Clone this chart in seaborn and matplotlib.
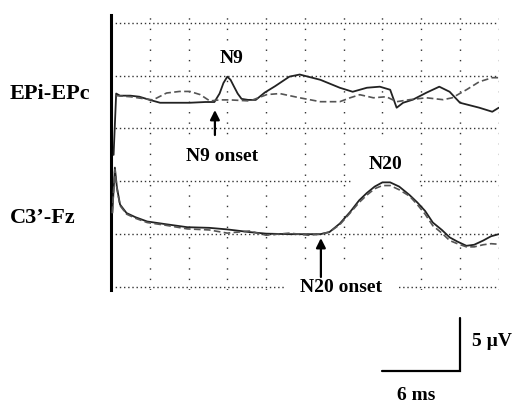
import numpy as np
import pandas as pd
import seaborn as sns
import matplotlib
matplotlib.use("Agg")
import matplotlib.pyplot as plt

# ---------------- data (ms, µV relative to each channel baseline) ----------------
EPI_OFFSET = 18.0
C3_OFFSET = 5.0

epi_a_t = [0.2, 0.4, 0.7, 1.5, 2.2, 3.0, 3.8, 5.0, 6.1, 7.3, 8.0, 8.4, 8.7, 9.0, 9.25,
           9.5, 9.8, 10.1, 10.6, 11.2, 11.9, 12.7, 13.8, 14.6, 16.2, 17.7, 18.7, 19.8,
           20.8, 21.6, 22.1, 22.6, 23.35, 24.4, 25.4, 26.2, 27.0, 28.5, 29.5, 30.0]
epi_a_v = [-5.5, 0.3, 0.1, 0.1, 0.0, -0.3, -0.57, -0.57, -0.57, -0.5, -0.5, 0.3, 1.3, 1.9, 1.6,
           1.0, 0.3, -0.2, -0.3, -0.3, 0.4, 1.0, 1.9, 2.1, 1.6, 0.85, 0.47, 0.85,
           0.95, 0.66, -1.04, -0.57, -0.28, 0.38, 0.95, 0.47, -0.57, -1.04, -1.42, -1.04]

epi_b_t = [0.4, 1.5, 2.6, 3.25, 4.3, 5.3, 6.1, 6.9, 7.65, 8.4, 9.2, 10.75, 12.05, 13.05,
           14.6, 16.2, 17.7, 18.5, 19.25, 20.3, 21.3, 22.1, 23.1, 24.4, 25.7, 26.4,
           27.5, 28.5, 29.5, 30.0]
epi_b_v = [0.1, 0.0, -0.2, -0.3, 0.35, 0.5, 0.5, 0.2, -0.4, -0.3, -0.3, -0.4, 0.2, 0.3,
           -0.1, -0.47, -0.47, -0.1, 0.19, -0.1, 0.0, -0.47, -0.28, -0.1, -0.28, -0.1,
           0.66, 1.42, 1.8, 1.8]

c3_t = [0.1, 0.3, 0.45, 0.55, 0.7, 1.2, 1.9, 2.8, 4.2, 5.9, 7.6, 9.0, 10.7, 12.0, 13.8,
        15.3, 16.2, 16.9, 17.7, 18.5, 19.2, 19.8, 20.4, 21.0, 21.6, 22.3, 23.1, 23.7,
        24.3, 24.9, 25.6, 26.2, 26.8, 27.5, 28.1, 28.8, 29.4, 30.0]
c3_a_v = [2.0, 6.3, 4.5, 3.8, 2.8, 2.0, 1.6, 1.2, 0.95, 0.66, 0.6, 0.45, 0.2, 0.05, 0.0,
          0.0, 0.0, 0.2, 1.0, 2.1, 3.2, 3.9, 4.5, 4.9, 4.9, 4.5, 3.7, 3.0,
          2.2, 1.1, 0.4, -0.3, -0.7, -1.1, -1.0, -0.6, -0.2, 0.0]
c3_b_v = [2.0, 6.1, 4.4, 3.7, 2.7, 1.9, 1.5, 1.1, 0.85, 0.5, 0.4, 0.1, 0.3, -0.1, 0.1,
          -0.1, 0.0, 0.2, 0.9, 2.0, 3.0, 3.7, 4.3, 4.6, 4.6, 4.2, 3.6, 2.8,
          1.9, 0.8, 0.1, -0.6, -0.9, -1.2, -1.2, -1.0, -0.9, -0.95]

channel_labels = ["EPi-EPc", "C3\u2019-Fz"]
scale_ms = 6
scale_uv = 5

# ---------------- figure ----------------
sns.set_theme(style="white")
plt.rcParams["font.family"] = ["Liberation Serif", "DejaVu Serif"]
fig = plt.figure(figsize=(5.24, 4.05), dpi=100)
ax = fig.add_axes([111 / 524, (405 - 290) / 405, 388 / 524 * 1.0, 275 / 405])

def frame(t, v, off, name):
    return pd.DataFrame({"t": t, "v": np.asarray(v) + off, "trace": name})

traces = [
    (frame(epi_a_t, epi_a_v, EPI_OFFSET, "a"), "-", "#222222", 1.3),
    (frame(epi_b_t, epi_b_v, EPI_OFFSET, "b"), (0, (4, 2)), "#555555", 1.2),
    (frame(c3_t, c3_a_v, C3_OFFSET, "c"), "-", "#222222", 1.3),
    (frame(c3_t, c3_b_v, C3_OFFSET, "d"), (0, (4, 2)), "#555555", 1.2),
]
for df, ls, col, lw in traces:
    sns.lineplot(data=df, x="t", y="v", ax=ax, color=col, lw=lw, linestyle=ls,
                 estimator=None, sort=False, zorder=3)

ax.set_xlim(0, 30.02)
ax.set_ylim(-0.28, 25.73)
ax.set_xticks(np.arange(0, 31, 3))
ax.set_yticks(np.arange(0, 26, 5))
ax.tick_params(length=0, labelbottom=False, labelleft=False)
ax.set_xlabel("")
ax.set_ylabel("")
ax.xaxis.grid(True, color="#333333", lw=1.0, linestyle=(0, (1, 6.5)))
ax.yaxis.grid(True, color="#333333", lw=1.0, linestyle=(0, (1, 2)))
ax.set_axisbelow(True)
for s in ["top", "right", "bottom"]:
    ax.spines[s].set_visible(False)
ax.spines["left"].set_color("black")
ax.spines["left"].set_linewidth(2.2)

bold = dict(fontweight="bold", color="black")
# channel labels
fig.text(10 / 524, 1 - 94 / 405, channel_labels[0], fontsize=16, va="center", ha="left", **bold)
fig.text(10 / 524, 1 - 218 / 405, channel_labels[1], fontsize=16, va="center", ha="left", **bold)

# peak / onset labels
wb = lambda p: dict(boxstyle=f"square,pad={p}", fc="white", ec="none")
ax.text(9.36, 21.6, "N9", fontsize=14, ha="center", va="center", bbox=wb(0.35), zorder=2, **bold)
ax.text(8.58, 12.39, "N9 onset", fontsize=14, ha="center", va="center", bbox=wb(0.6), zorder=2, **bold)
ax.text(21.26, 11.6, "N20", fontsize=14, ha="center", va="center", bbox=wb(0.8), zorder=2, **bold)
ax.text(17.78, -0.09, "N20 onset", fontsize=14, ha="center", va="center", bbox=wb(0.8),
        zorder=2, clip_on=False, **bold)

arrow = dict(arrowstyle="-|>", mutation_scale=14, lw=1.6, color="black", shrinkA=0, shrinkB=0)
ax.annotate("", xy=(8.04, 16.74), xytext=(8.04, 14.38), arrowprops=arrow, zorder=5)
ax.annotate("", xy=(16.24, 4.63), xytext=(16.24, 0.95), arrowprops=arrow, zorder=5)

# scale bar
x_end = 27.0
y_base = -7.95
ax.plot([x_end - scale_ms, x_end, x_end], [y_base, y_base, y_base + scale_uv],
        color="black", lw=1.6, clip_on=False, solid_joinstyle="miter")
ax.text(x_end + 0.9, y_base + scale_uv / 2 + 0.3, f"{scale_uv} \u00b5V", fontsize=14,
        ha="left", va="center", clip_on=False, **bold)
ax.text(x_end - scale_ms / 2 - 0.4, y_base - 2.3, f"{scale_ms} ms", fontsize=14,
        ha="center", va="center", clip_on=False, **bold)

fig.savefig("out.png", dpi=100, facecolor="white")
